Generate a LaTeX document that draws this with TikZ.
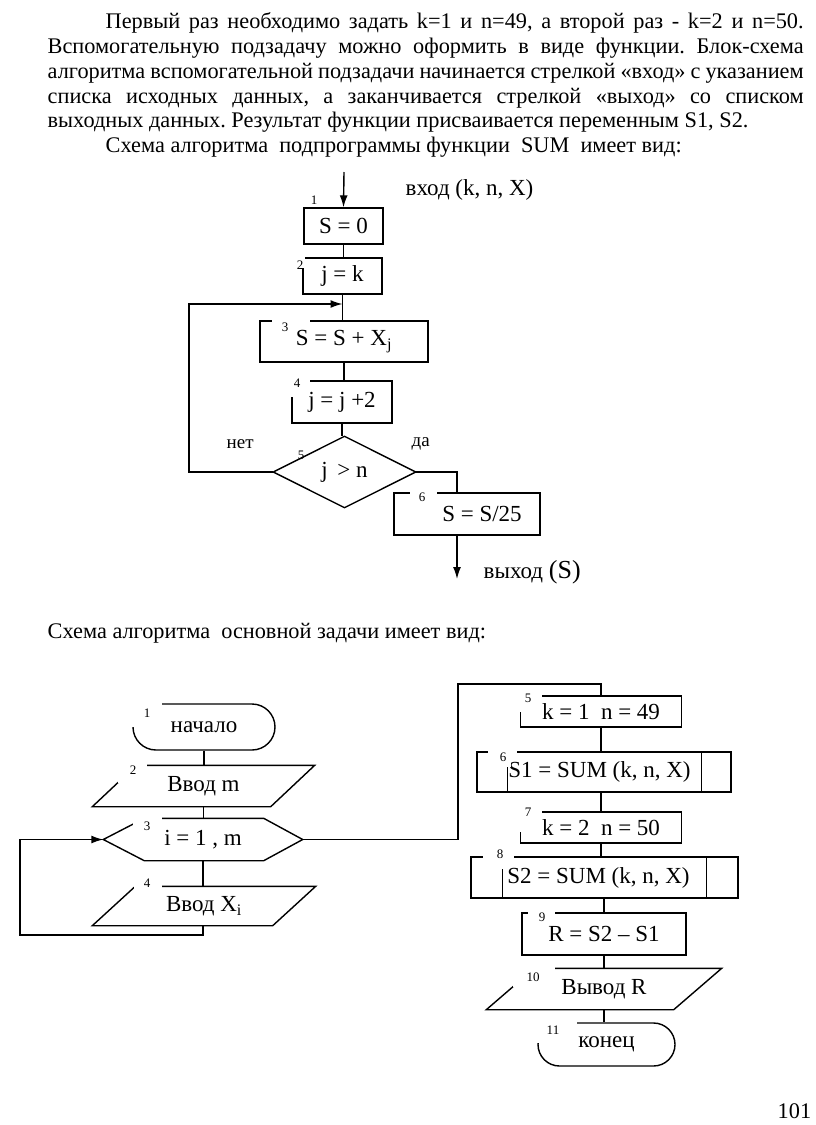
\documentclass[tikz,border=0pt]{standalone}
\usepackage{fontspec}
\setmainfont{Liberation Serif}
\newfontfamily\bodyfont{Liberation Serif}
\usetikzlibrary{arrows.meta,shapes.misc}
\frenchspacing
\begin{document}
\begin{tikzpicture}[x=1pt,y=-1pt,line width=1.4pt,
  box/.style={draw,rectangle,inner sep=0pt,font=\fontsize{23}{23}\selectfont},
  blank/.style={rectangle,inner sep=0pt,font=\fontsize{23}{23}\selectfont},
  term/.style={draw,rounded rectangle,inner sep=0pt,font=\fontsize{23}{23}\selectfont},
  num/.style={font=\fontsize{13}{13}\selectfont,inner sep=0pt},
  body/.style={anchor=base west,inner sep=0pt,font=\bodyfont\fontsize{22.3}{26}\selectfont\frenchspacing},
  lbl/.style={anchor=west,inner sep=0pt,font=\fontsize{23}{23}\selectfont},
  small/.style={anchor=west,inner sep=0pt,font=\fontsize{19}{19}\selectfont},
  arr/.style={-{Latex[length=12pt,width=8pt]}},
  gap/.style={fill=white,draw=none}
]
\useasboundingbox[fill=white] (0,0) rectangle (816,1125);

% ---------- text ----------
\node[body] (t1) at (105,28) {\makebox[698pt][s]{Первый раз необходимо задать k=1 и n=49, а второй раз - k=2 и n=50.}};
\node[body] (t2) at (47,53) {\makebox[756pt][s]{Вспомогательную подзадачу можно оформить в виде функции. Блок-схема}};
\node[body] (t3) at (47,78) {\makebox[756pt][s]{алгоритма вспомогательной подзадачи начинается стрелкой «вход» с указанием}};
\node[body] (t4) at (47,103) {\makebox[756pt][s]{списка исходных данных, а заканчивается стрелкой «выход» со списком}};
\node[body] (t5) at (47,127) {выходных данных. Результат функции присваивается переменным S1, S2.};
\node[body] (t6) at (105,152) {Схема алгоритма\ \ подпрограммы функции\ \ SUM\ \ имеет вид:};
\node[body] (t7) at (47,638) {Схема алгоритма\ \ основной задачи имеет вид:};
\node[body] (pg) at (777,1118) {101};

% ---------- SUM subroutine ----------
\node[box,minimum width=79pt,minimum height=36pt] (a1) at (343.5,226) {S = 0};
\node[box,minimum width=79pt,minimum height=36pt] (a2) at (342.5,276) {j = k};
\node[box,minimum width=168pt,minimum height=41pt] (a3) at (344,341.5) {S = S + X\textsubscript{j}};
\node[box,minimum width=100pt,minimum height=42pt] (a4) at (342,402) {j = j +2};
\node[blank,minimum width=141pt,minimum height=70pt] (a5) at (344.5,472) {j\ \,>\ n};
\draw (a5.west) -- (a5.north) -- (a5.east) -- (a5.south) -- cycle;
\node[box,minimum width=146pt,minimum height=42pt] (a6) at (467,514) {\hspace*{30pt}S = S/25};

\coordinate (ain) at (344,172);
\coordinate (aout) at (457,579);
\coordinate (aloop) at (189,304);
\draw[arr] (ain) -- (a1.north);
\draw (a1.south) -- (a1.south |- a2.north);
\draw (a2.south) -- (a2.south |- a3.north);
\draw (a3.south) -- (a3.south |- a4.north);
\draw (a4.south) -- (a4.south |- a5.north);
\draw[arr] (a5.west) -| (aloop) -- (aloop -| a2.south);
\draw (a5.east) -| ([xshift=-10pt]a6.north);
\draw[arr] ([xshift=-10pt]a6.south) -- (aout);

\node[lbl] (lin) at (405,190) {вход (k, n, X)};
\node[lbl] (lout) at (483,572) {выход {\fontsize{26}{26}\selectfont(S)}};
\node[small] (lno) at (226,444) {нет};
\node[small] (lyes) at (411,444) {да};

\fill[gap] (297,256) rectangle (305,268);
\fill[gap] (272,316) rectangle (310,326);
\fill[gap] (290,378) rectangle (310,385);
\fill[gap] (290,378) rectangle (295,397);
\fill[gap] (410,490) rectangle (437,497);
\node[num] at (314,200) {1};
\node[num] at (300,265) {2};
\node[num] at (285,327) {3};
\node[num] at (297,383) {4};
\node[num] at (301,455) {5};
\node[num] at (422,497) {6};

% ---------- main program ----------
\node[term,minimum width=142pt,minimum height=46pt] (m1) at (204,727) {начало};
\node[blank,minimum width=221pt,minimum height=40pt] (m2) at (203.5,786) {Ввод m};
\draw ([xshift=44pt]m2.north west) -- (m2.north east) -- ([xshift=-44pt]m2.south east) -- (m2.south west) -- cycle;
\node[blank,minimum width=198pt,minimum height=41pt] (m3) at (203,839.5) {i = 1 , m};
\draw (m3.west) -- ([xshift=41pt]m3.north west) -- ([xshift=-39pt]m3.north east) -- (m3.east) -- ([xshift=-39pt]m3.south east) -- ([xshift=41pt]m3.south west) -- cycle;
\node[blank,minimum width=222pt,minimum height=38pt] (m4) at (204,906) {Ввод X\textsubscript{i}};
\draw ([xshift=43pt]m4.north west) -- (m4.north east) -- ([xshift=-43pt]m4.south east) -- (m4.south west) -- cycle;

\node[box,minimum width=161pt,minimum height=31pt] (m5) at (601,711.5) {k = 1\ \ n = 49};
\node[box,minimum width=254pt,minimum height=40pt] (m6) at (604,772) {S1 = SUM (k, n, X)\hspace*{9pt}};
\draw ([xshift=31pt]m6.north west) -- ([xshift=31pt]m6.south west);
\draw ([xshift=-30pt]m6.north east) -- ([xshift=-30pt]m6.south east);
\node[box,minimum width=161pt,minimum height=31pt] (m7) at (601,827.5) {k = 2\ \ n = 50};
\node[box,minimum width=267pt,minimum height=41pt] (m8) at (604.5,877.5) {S2 = SUM (k, n, X)\hspace*{12pt}};
\draw ([xshift=32pt]m8.north west) -- ([xshift=32pt]m8.south west);
\draw ([xshift=-32pt]m8.north east) -- ([xshift=-32pt]m8.south east);
\node[box,minimum width=164pt,minimum height=42pt] (m9) at (604,934) {R = S2 -- S1};
\node[blank,minimum width=234pt,minimum height=40pt] (m10) at (604,989) {Вывод R};
\draw ([xshift=48pt]m10.north west) -- (m10.north east) -- ([xshift=-48pt]m10.south east) -- (m10.south west) -- cycle;
\node[term,minimum width=137pt,minimum height=43pt] (m11) at (606.5,1044.5) {конец};

\draw (m1.south) -- (m1.south |- m2.north);
\draw (m2.south) -- (m2.south |- m3.north);
\draw (m3.south) -- (m3.south |- m4.north);
\coordinate (mloopa) at (203,935);
\coordinate (mloopb) at (20,935);
\draw[arr] (m4.south -| mloopa) -- (mloopa) -- (mloopb) |- (m3.west);
\coordinate (mjoin) at (458,684);
\draw (m3.east) -| (mjoin) -| (m5.north);
\draw (m5.south) -- (m5.south |- m6.north);
\draw (m6.south -| m5.south) -- (m5.south |- m7.north);
\draw (m7.south) -- (m7.south |- m8.north);
\draw (m8.south -| m9.north) -- (m9.north);
\draw (m9.south) -- (m9.south |- m10.north);
\draw (m10.south) -- (m10.south |- m11.north);

\fill[gap] (131,702) rectangle (162,727);
\fill[gap] (118,760) rectangle (147,783);
\fill[gap] (133,815) rectangle (162,834);
\fill[gap] (134,876) rectangle (162,889);
\fill[gap] (517,693) rectangle (542,699);
\fill[gap] (517,693) rectangle (524,712);
\fill[gap] (488,749) rectangle (517,755);
\fill[gap] (488,749) rectangle (511,767);
\fill[gap] (517,809) rectangle (542,815);
\fill[gap] (517,809) rectangle (524,832);
\fill[gap] (483,852) rectangle (514,860);
\fill[gap] (483,852) rectangle (506,869);
\fill[gap] (528,910) rectangle (555,917);
\fill[gap] (513,965) rectangle (555,987);
\fill[gap] (536,1021) rectangle (577,1043);
\node[num] at (147,713) {1};
\node[num] at (133,770) {2};
\node[num] at (147,826) {3};
\node[num] at (147,883) {4};
\node[num] at (528,698) {5};
\node[num] at (503,757) {6};
\node[num] at (528,812) {7};
\node[num] at (500,854) {8};
\node[num] at (542,917) {9};
\node[num] at (533,977) {10};
\node[num] at (553,1030) {11};
\end{tikzpicture}
\end{document}
